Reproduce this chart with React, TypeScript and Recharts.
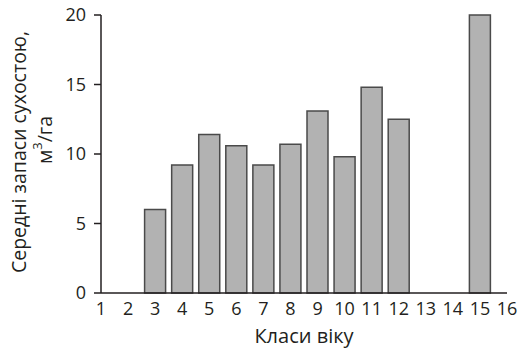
import { Bar, BarChart, Label, XAxis, YAxis } from "recharts";

const ageClasses = [3, 4, 5, 6, 7, 8, 9, 10, 11, 12, 15];
const deadwoodStock = [6.0, 9.2, 11.4, 10.6, 9.2, 10.7, 13.1, 9.8, 14.8, 12.5, 20.0];
const xTicks = [1, 2, 3, 4, 5, 6, 7, 8, 9, 10, 11, 12, 13, 14, 15, 16];
const yTicks = [0, 5, 10, 15, 20];

const FONT = "'Open Sans', sans-serif";
const INK = "#231f20";

const chartData = ageClasses.map((cls, i) => ({ cls, value: deadwoodStock[i] }));

function YTitle({ viewBox }: any) {
  const cy = viewBox.y + viewBox.height / 2;
  return (
    <g fontFamily={FONT} fontSize={19.5} fill={INK}>
      <text x={18} y={cy - 2} textAnchor="middle" dominantBaseline="central" transform={`rotate(-90 18 ${cy - 2})`}>
        Середні запаси сухостою,
      </text>
      <text x={44} y={cy - 14} textAnchor="middle" dominantBaseline="central" transform={`rotate(-90 44 ${cy - 14})`}>
        м<tspan dy={-7} fontSize={13}>3</tspan>
        <tspan dy={7}>/га</tspan>
      </text>
    </g>
  );
}

export default function App() {
  return (
    <div style={{ position: "absolute", left: 0, top: 0, background: "#fff" }}>
      <BarChart width={522} height={348} data={chartData} margin={{ top: 15, right: 15, bottom: 0, left: 0 }}>
        <XAxis
          dataKey="cls"
          type="number"
          domain={[1, 16]}
          ticks={xTicks}
          interval={0}
          tickLine={false}
          tickSize={0}
          tickMargin={9}
          axisLine={{ stroke: INK, strokeWidth: 1.5 }}
          tick={{ fill: INK, fontSize: 18, fontFamily: FONT }}
          height={55}
        >
          <Label value="Класи віку" position="insideBottom" offset={5} fill={INK} fontSize={20} fontFamily={FONT} />
        </XAxis>
        <YAxis
          domain={[0, 20]}
          ticks={yTicks}
          width={101}
          tickSize={7}
          tickMargin={8}
          tickLine={{ stroke: INK, strokeWidth: 1.5 }}
          axisLine={{ stroke: INK, strokeWidth: 1.5 }}
          tick={{ fill: INK, fontSize: 18, fontFamily: FONT }}
        >
          <Label content={<YTitle />} />
        </YAxis>
        <Bar dataKey="value" barSize={21} fill="#b2b2b2" stroke="#4a4a4a" strokeWidth={1.5} isAnimationActive={false} />
      </BarChart>
    </div>
  );
}
